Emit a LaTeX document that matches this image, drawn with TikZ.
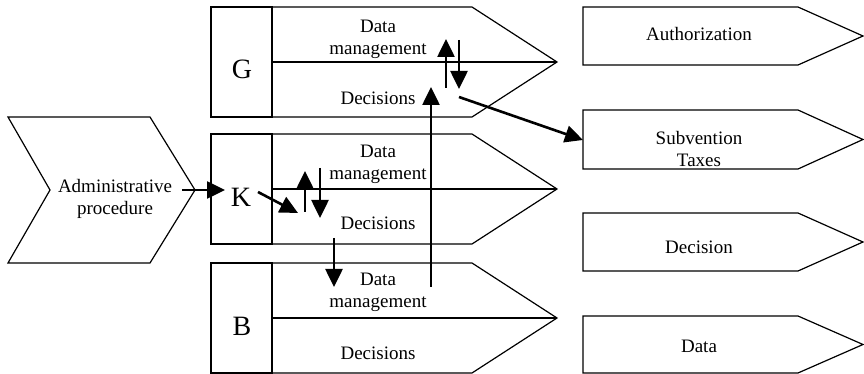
\documentclass[tikz,border=0pt]{standalone}
\usepackage{fontspec}
\setmainfont{Liberation Serif}
\usetikzlibrary{arrows.meta,positioning}
\tikzset{%
box/.style={draw=black, line width=0.6pt},
txt/.style={font=\fontsize{9.5}{11}\selectfont, align=center, inner sep=1pt},
letter/.style={font=\fontsize{14}{16}\selectfont, inner sep=0pt},
flow/.style={draw=black, line width=1.3pt, -{Triangle[length=9pt,width=8.5pt]}}
}

\begin{document}
\begin{tikzpicture}[x=0.5pt, y=-0.5pt]
	\useasboundingbox (0,0) rectangle (864,374);
	% administrative procedure
	\draw[box] (8,117) -- (150,117) -- (195,190) -- (150,263) -- (8,263) -- (50,190) -- cycle;
	\node[txt] (adm) at (115,199) {Administrative\\procedure};
	% lane G
	\draw[box] (211,7) rectangle (272,117);
	\draw[box] (272,7) -- (472,7) -- (557,62) -- (472,117) -- (272,117);
	\draw[box] (272,62) -- (557,62);
	\node[letter] (g) at (242,69) {G};
	\node[txt] (gdm) at (378,39) {Data\\management};
	\node[txt] (gdec) at (378,98) {Decisions};
	% lane K
	\draw[box] (211,134) rectangle (272,244);
	\draw[box] (272,134) -- (472,134) -- (557,189) -- (472,244) -- (272,244);
	\draw[box] (272,189) -- (557,189);
	\node[letter] (k) at (241,197) {K};
	\node[txt] (kdm) at (378,164) {Data\\management};
	\node[txt] (kdec) at (378,223) {Decisions};
	% lane B
	\draw[box] (211,263) rectangle (272,373);
	\draw[box] (272,263) -- (472,263) -- (557,318) -- (472,373) -- (272,373);
	\draw[box] (272,318) -- (557,318);
	\node[letter] (b) at (242,326) {B};
	\node[txt] (bdm) at (378,292) {Data\\management};
	\node[txt] (bdec) at (378,353) {Decisions};
	% results
	\draw[box] (583,7) -- (798,7) -- (863,36) -- (798,65) -- (583,65) -- cycle;
	\node[txt] (auth) at (699,34) {Authorization};
	\draw[box] (583,110) -- (798,110) -- (863,139.5) -- (798,169) -- (583,169) -- cycle;
	\node[txt] (subv) at (699,149) {Subvention\\Taxes};
	\draw[box] (583,213) -- (798,213) -- (863,242) -- (798,271) -- (583,271) -- cycle;
	\node[txt] (dcs) at (699,247) {Decision};
	\draw[box] (583,316) -- (798,316) -- (863,344.5) -- (798,373) -- (583,373) -- cycle;
	\node[txt] (data) at (699,346) {Data};
	% arrow ends
	\coordinate (admout) at (182,190);
	\coordinate (kin) at (225,190);
	\coordinate (kout) at (258,192);
	\coordinate (kmid) at (298,213);
	\coordinate (kuplo) at (305,212);
	\coordinate (kuphi) at (305,171);
	\coordinate (kdnhi) at (320,168);
	\coordinate (kdnlo) at (320,218);
	\coordinate (kdec) at (334,238);
	\coordinate (bin) at (334,287);
	\coordinate (bout) at (431,287);
	\coordinate (gin) at (431,87);
	\coordinate (guplo) at (446,88);
	\coordinate (guphi) at (446,39);
	\coordinate (gdnhi) at (459,40);
	\coordinate (gdnlo) at (459,89);
	\coordinate (gout) at (459,97);
	\coordinate (subvin) at (583,140);
	% flows
	\draw[flow] (admout) -- (kin);
	\draw[flow] (kout) -- (kmid);
	\draw[flow] (kuplo) -- (kuphi);
	\draw[flow] (kdnhi) -- (kdnlo);
	\draw[flow] (kdec) -- (bin);
	\draw[flow] (bout) -- (gin);
	\draw[flow] (guplo) -- (guphi);
	\draw[flow] (gdnhi) -- (gdnlo);
	\draw[flow] (gout) -- (subvin);
\end{tikzpicture}
\end{document}
